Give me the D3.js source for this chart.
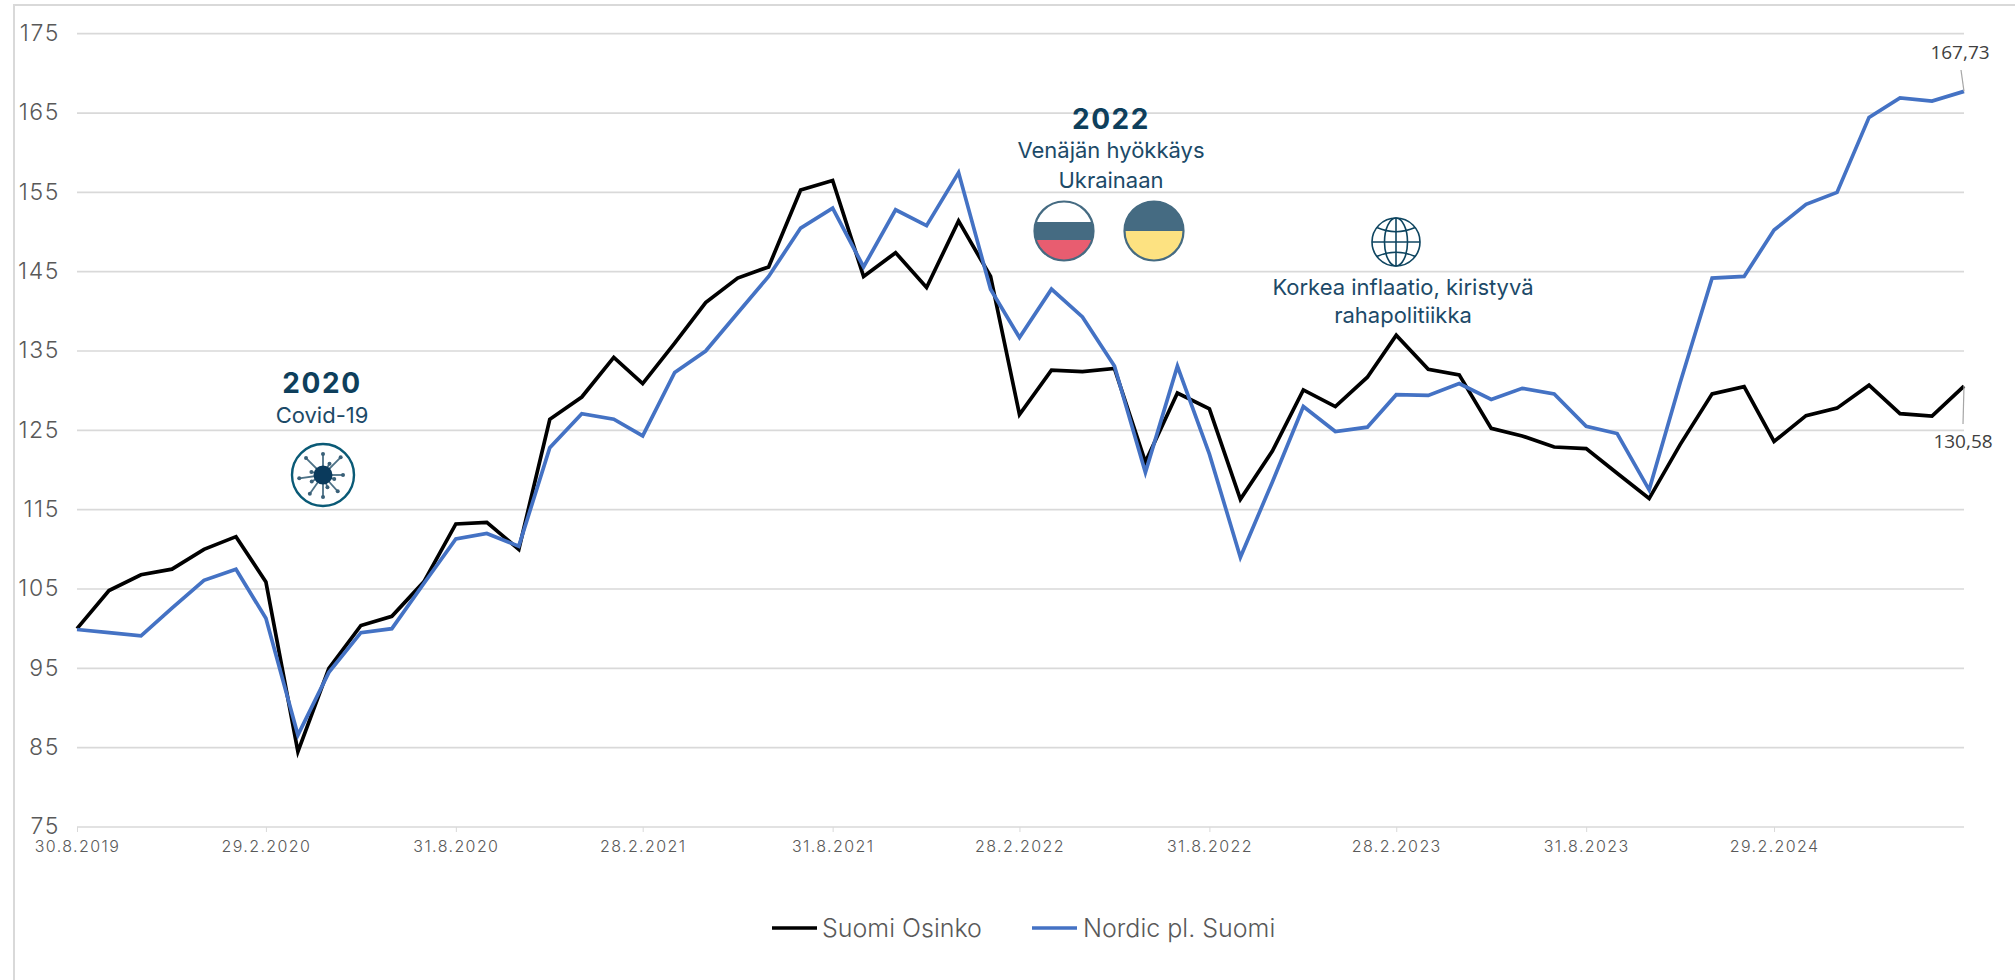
<!DOCTYPE html>
<html><head><meta charset="utf-8">
<script src="https://cdnjs.cloudflare.com/ajax/libs/d3/7.8.5/d3.min.js"></script>
<style>
html,body{margin:0;padding:0;background:#fff;overflow:hidden}
svg{display:block}
text{font-family:Inter,"Noto Sans",sans-serif}
</style></head><body><svg id="c" width="2015" height="980"></svg>
<script>
const dates=["2019-08-30","2019-09-30","2019-10-31","2019-11-30","2019-12-31","2020-01-31","2020-02-29","2020-03-31","2020-04-30","2020-05-31","2020-06-30","2020-07-31","2020-08-31","2020-09-30","2020-10-31","2020-11-30","2020-12-31","2021-01-31","2021-02-28","2021-03-31","2021-04-30","2021-05-31","2021-06-30","2021-07-31","2021-08-31","2021-09-30","2021-10-31","2021-11-30","2021-12-31","2022-01-31","2022-02-28","2022-03-31","2022-04-30","2022-05-31","2022-06-30","2022-07-31","2022-08-31","2022-09-30","2022-10-31","2022-11-30","2022-12-31","2023-01-31","2023-02-28","2023-03-31","2023-04-30","2023-05-31","2023-06-30","2023-07-31","2023-08-31","2023-09-30","2023-10-31","2023-11-30","2023-12-31","2024-01-31","2024-02-29","2024-03-31","2024-04-30","2024-05-31","2024-06-30","2024-07-31","2024-08-31"];
const suomiOsinko=[100,104.8,106.8,107.5,110,111.6,105.9,84.5,95,100.4,101.55,105.9,113.2,113.4,110,126.4,129.2,134.2,130.9,136,141.1,144.2,145.6,155.3,156.5,144.4,147.4,143,151.4,144.4,127,132.6,132.4,132.8,121,129.7,127.7,116.3,122.4,130.1,128,131.7,137,132.7,132,125.25,124.3,122.9,122.7,119.6,116.4,123.2,129.6,130.5,123.6,126.85,127.8,130.7,127.1,126.8,130.58];
const nordicPlSuomi=[99.9,99.5,99.1,102.6,106.1,107.5,101.3,86.6,94.5,99.5,100,105.7,111.3,112,110.4,122.8,127.1,126.4,124.3,132.3,135,139.8,144.4,150.5,153,145.6,152.8,150.8,157.5,142.8,136.7,142.8,139.3,133.1,119.7,133.1,122,109,118.5,128,124.85,125.4,129.5,129.4,130.9,128.9,130.3,129.6,125.5,124.6,117.5,131,144.2,144.4,150.25,153.5,155,164.45,166.9,166.5,167.73];
const yTicks=[75,85,95,105,115,125,135,145,155,165,175];
const xTickDates=["2019-08-30","2020-02-29","2020-08-31","2021-02-28","2021-08-31","2022-02-28","2022-08-31","2023-02-28","2023-08-31","2024-02-29"];
const seriesNames=["Suomi Osinko","Nordic pl. Suomi"];
const seriesColors=["#000000","#4472c4"];
const virusSpokes=[[-90,21],[-45,25],[-135,24],[0,20],[48,22],[90,22],[125,23],[172,24],[-165,12],[20,12],[-60,13],[70,13],[150,13]];

const parse=d3.utcParse("%Y-%m-%d");
const fmt=d=>`${d.getUTCDate()}.${d.getUTCMonth()+1}.${d.getUTCFullYear()}`;
const svg=d3.select("#c");
const x=d3.scaleUtc().domain([parse(dates[0]),parse(dates[dates.length-1])]).range([77,1964]);
const y=d3.scaleLinear().domain([75,175]).range([827,33.7]);

svg.append("path").attr("d","M14,980V5H2015").attr("fill","none").attr("stroke","#d9d9d9").attr("stroke-width",2);

const gy=svg.append("g").attr("transform","translate(77,0)")
 .call(d3.axisLeft(y).tickValues(yTicks).tickSize(0).tickPadding(17));
gy.select(".domain").remove();
gy.selectAll("text").attr("font-size",23).attr("font-weight",300).attr("fill","#595959")
  .style("font-family","Inter").attr("letter-spacing","1.6").attr("dy","0.3em");
svg.insert("g","g").selectAll("line").data(yTicks).join("line")
 .attr("x1",77).attr("x2",1964).attr("y1",d=>y(d)).attr("y2",d=>y(d))
 .attr("stroke","#d9d9d9").attr("stroke-width",1.7);

const gx=svg.append("g").attr("transform","translate(0,827)")
 .call(d3.axisBottom(x).tickValues(xTickDates.map(parse)).tickFormat(fmt).tickSize(5).tickPadding(9));
gx.select(".domain").remove();
gx.selectAll("line").attr("stroke","#d9d9d9").attr("stroke-width",1);
gx.selectAll("text").attr("font-size",16).attr("font-weight",300).attr("fill","#595959").attr("letter-spacing","1.4");

const line=d3.line().x((d,i)=>x(parse(dates[i]))).y(d=>y(d)).curve(d3.curveLinear);
[suomiOsinko,nordicPlSuomi].forEach((s,k)=>{
 svg.append("path").attr("d",line(s)).attr("fill","none").attr("stroke",seriesColors[k])
  .attr("stroke-width",3.7).attr("stroke-linejoin","miter").attr("stroke-miterlimit",10);
});

// data labels
const lx=x(parse(dates[60]));
const lab=(t,tx,ty,x1,y1,x2,y2)=>{
 svg.append("line").attr("x1",x1).attr("y1",y1).attr("x2",x2).attr("y2",y2).attr("stroke","#a6a6a6").attr("stroke-width",1.2);
 svg.append("text").attr("x",tx).attr("y",ty).attr("text-anchor","middle").attr("font-size",19)
  .attr("fill","#404040").style("font-family","'Open Sans'").text(t);
};
lab("167,73",1960,59,1961,70,lx,y(nordicPlSuomi[60]));
lab("130,58",1963,448,1963,424,lx,y(suomiOsinko[60]));

// legend
const legY=928,legs=[[772,817,822],[1032,1077,1083]];
seriesNames.forEach((n,i)=>{
 svg.append("line").attr("x1",legs[i][0]).attr("x2",legs[i][1]).attr("y1",legY).attr("y2",legY)
  .attr("stroke",seriesColors[i]).attr("stroke-width",3.7);
 svg.append("text").attr("x",legs[i][2]).attr("y",legY+9).attr("font-size",25).attr("font-weight",300)
  .attr("fill","#595959").text(n);
});

// annotations
const ink="#0e3f5c";
const head=(t,cx,yb)=>svg.append("text").attr("x",cx).attr("y",yb).attr("text-anchor","middle")
 .attr("font-size",28).attr("font-weight",700).attr("fill",ink).attr("letter-spacing","1.6").text(t);
const sub=(t,cx,yb)=>svg.append("text").attr("x",cx).attr("y",yb).attr("text-anchor","middle")
 .attr("font-size",22).attr("font-weight",400).attr("fill","#1c4a68").text(t);
head("2020",322,393); sub("Covid-19",322,423);
head("2022",1111,129); sub("Venäjän hyökkäys",1111,158); sub("Ukrainaan",1111,188);
sub("Korkea inflaatio, kiristyvä",1403,295); sub("rahapolitiikka",1403,323);

// virus icon
const v=svg.append("g").attr("transform","translate(323,475)");
v.append("circle").attr("r",31).attr("fill","#fff").attr("stroke","#0a5a76").attr("stroke-width",2.4);
virusSpokes.forEach(([a,r])=>{
 const t=a*Math.PI/180,cx=Math.cos(t)*r,cy=Math.sin(t)*r;
 v.append("line").attr("x2",cx).attr("y2",cy).attr("stroke","#4d7186").attr("stroke-width",1.8);
 v.append("circle").attr("cx",cx).attr("cy",cy).attr("r",2).attr("fill","#3a6078");
});
v.append("circle").attr("r",9.5).attr("fill","#0a3a5c");

// flags
const flag=(cx,cy,r,bands)=>{
 const id="f"+cx;
 svg.append("clipPath").attr("id",id).append("circle").attr("cx",cx).attr("cy",cy).attr("r",r);
 bands.forEach(([a,b,c])=>svg.append("rect").attr("x",cx-r).attr("width",2*r).attr("y",a).attr("height",b-a).attr("fill",c).attr("clip-path",`url(#${id})`));
 svg.append("circle").attr("cx",cx).attr("cy",cy).attr("r",r-0.5).attr("fill","none").attr("stroke","#456b82").attr("stroke-width",2.2);
};
flag(1064,231,30,[[201,222,"#ffffff"],[222,240,"#456b82"],[240,261,"#e85d70"]]);
flag(1154,231,30,[[201,231,"#456b82"],[231,261,"#fde281"]]);

// globe
const g=svg.append("g").attr("transform","translate(1396,242)").attr("fill","none").attr("stroke","#0e4560").attr("stroke-width",1.6);
const R=24;
g.append("circle").attr("r",R);
g.append("ellipse").attr("rx",R*0.48).attr("ry",R);
g.append("line").attr("y1",-R).attr("y2",R);
g.append("line").attr("x1",-R).attr("x2",R);
g.append("path").attr("d",`M${-R*0.8},${-R*0.6}Q0,${-R*0.25} ${R*0.8},${-R*0.6}`);
g.append("path").attr("d",`M${-R*0.8},${R*0.6}Q0,${R*0.25} ${R*0.8},${R*0.6}`);
</script></body></html>
